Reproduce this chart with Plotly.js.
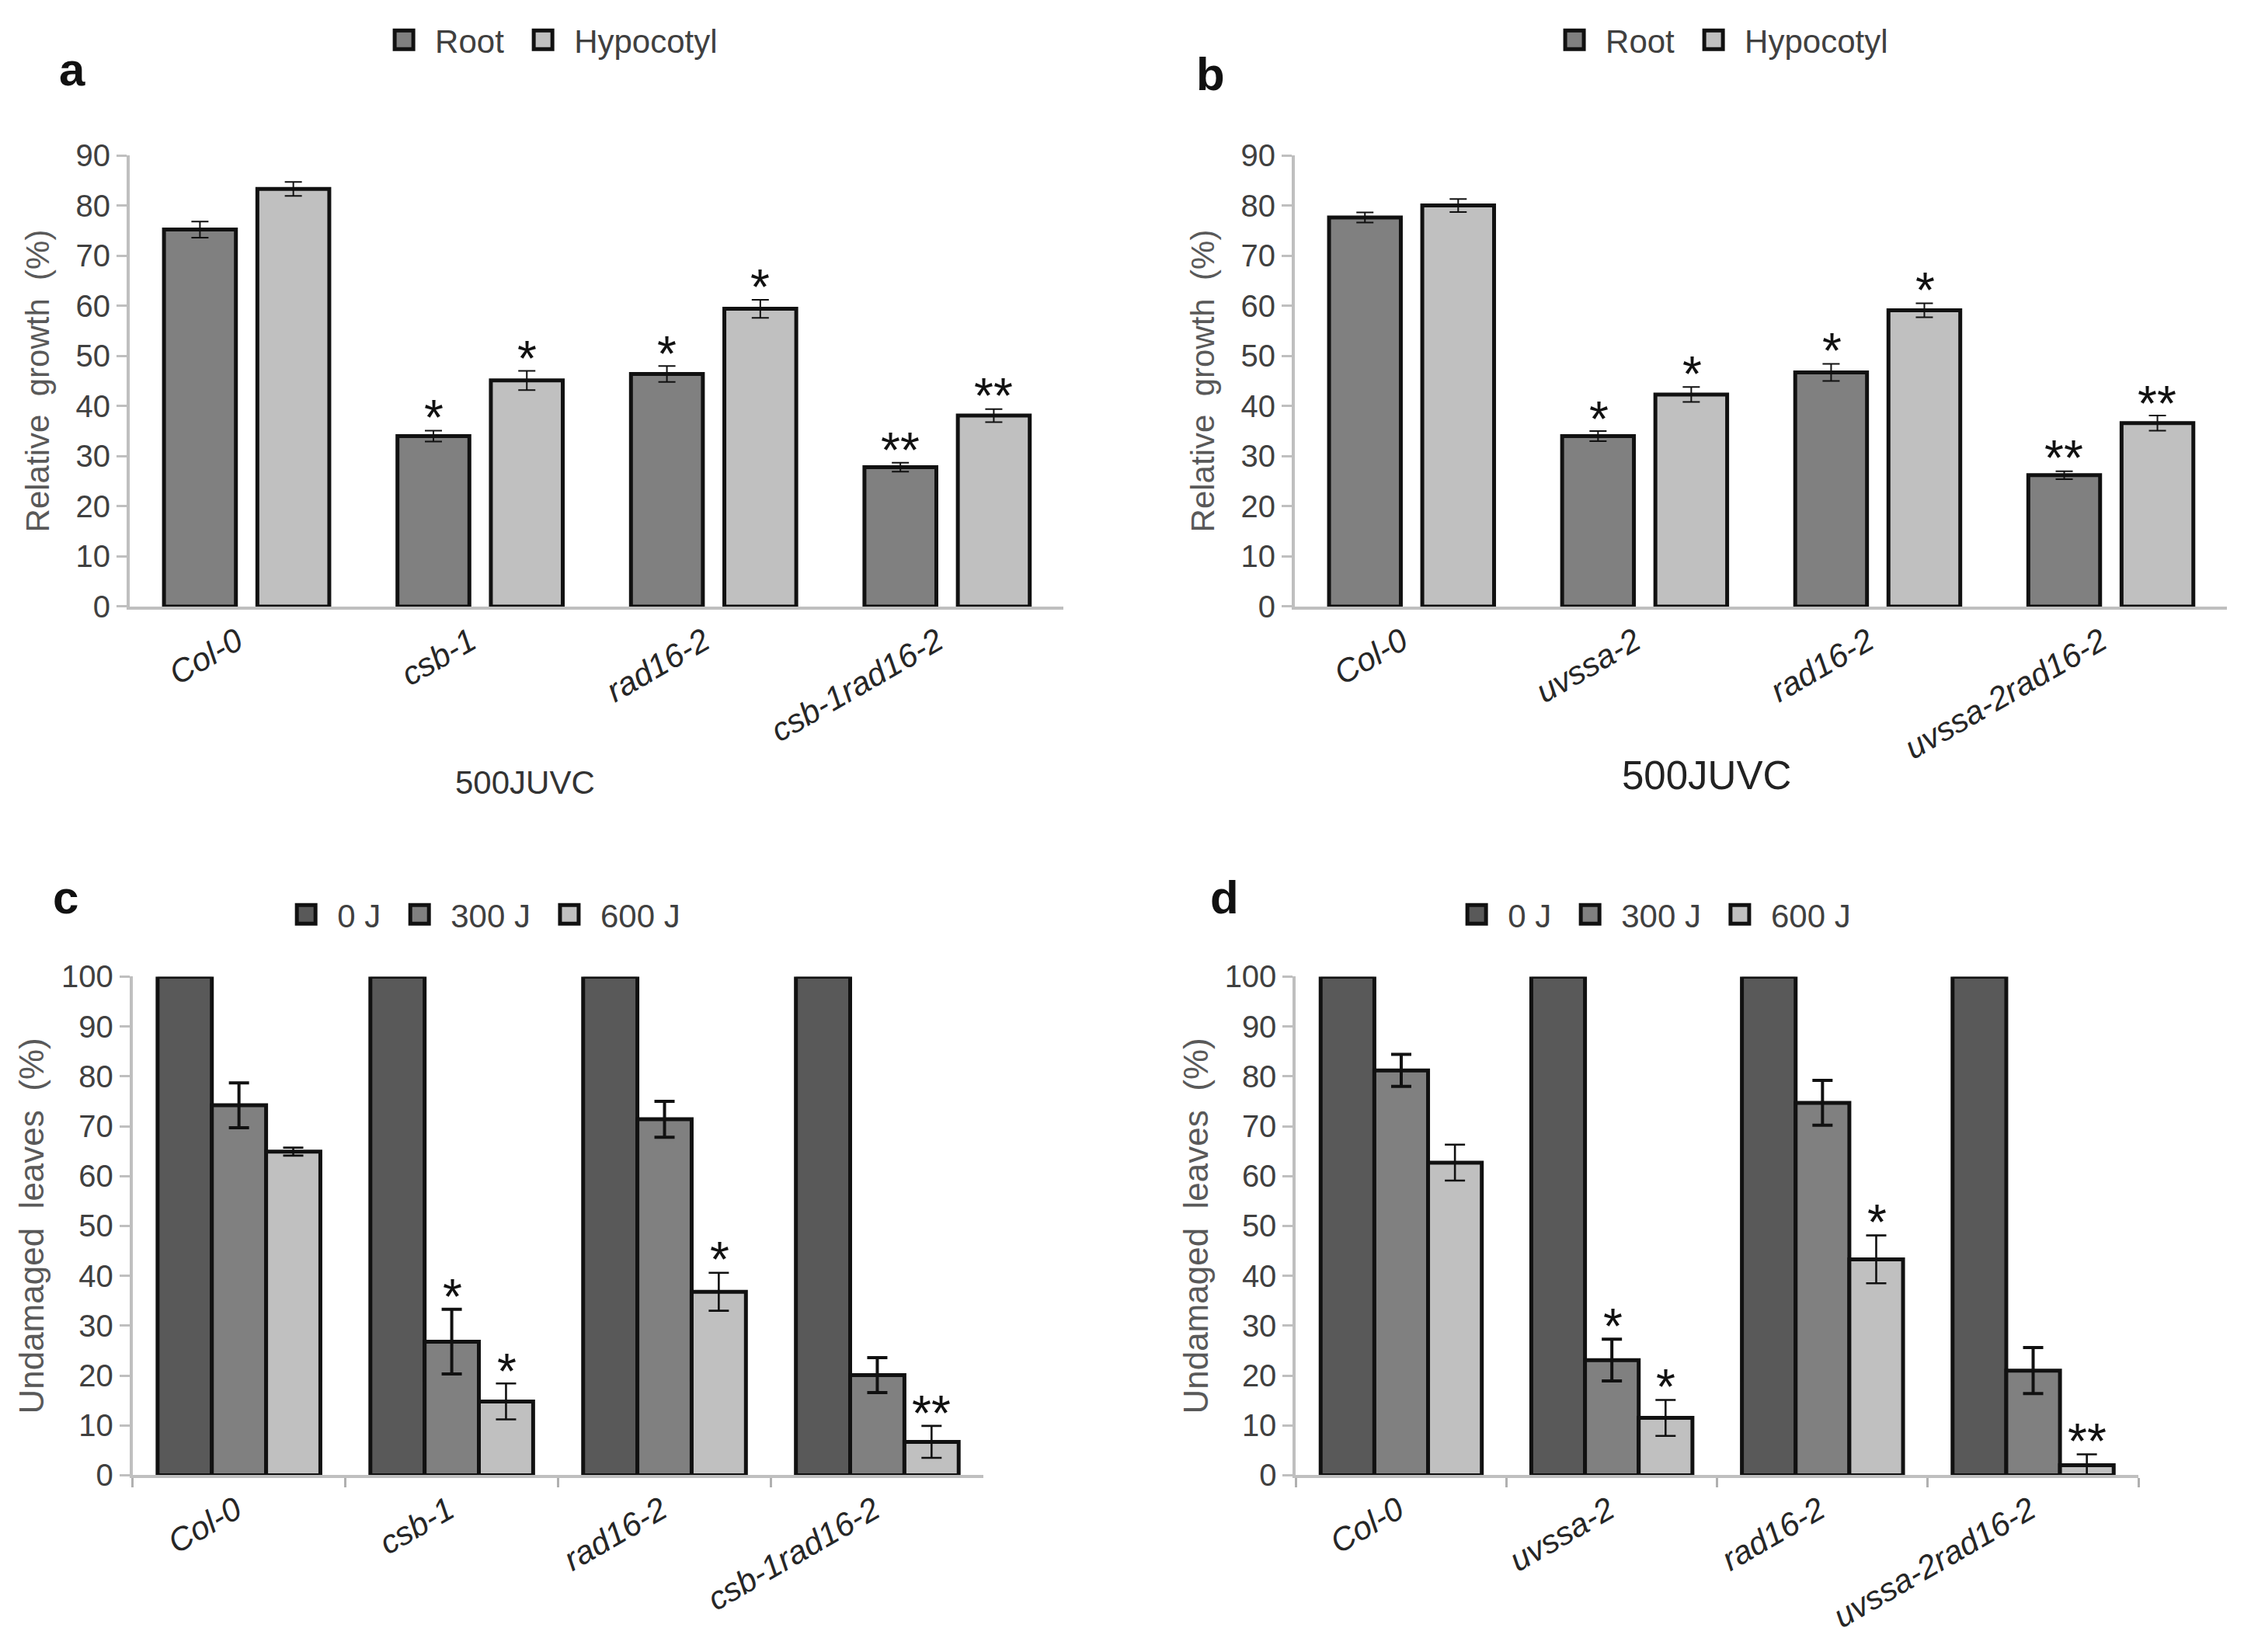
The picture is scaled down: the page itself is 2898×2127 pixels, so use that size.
<!DOCTYPE html>
<html>
<head>
<meta charset="utf-8">
<script src="https://cdn.plot.ly/plotly-3.0.1.min.js"></script>
<style>
html,body{margin:0;padding:0;background:#fff;overflow:hidden}
#wrap{width:2898px;height:2127px;overflow:hidden;position:relative}
#chart{width:1449px;height:1064px;transform:scale(2);transform-origin:0 0;position:absolute;left:0;top:0}
</style>
</head>
<body>
<div id="wrap"><div id="chart"></div></div>
<script>
// ---------- data ----------
const catsA = ['Col-0', 'csb-1', 'rad16-2', 'csb-1rad16-2'];
const catsB = ['Col-0', 'uvssa-2', 'rad16-2', 'uvssa-2rad16-2'];

// panel a (500 J UVC, relative growth %)
const rootA = [75.2, 34.0, 46.4, 27.8];
const rootAErr = [1.6, 1.1, 1.6, 0.9];
const rootASig = ['', '*', '*', '**'];
const hypoA = [83.3, 45.1, 59.4, 38.1];
const hypoAErr = [1.4, 1.9, 1.8, 1.3];
const hypoASig = ['', '*', '*', '**'];

// panel b
const rootB = [77.6, 34.0, 46.7, 26.2];
const rootBErr = [1.0, 1.0, 1.7, 0.8];
const rootBSig = ['', '*', '*', '**'];
const hypoB = [80.0, 42.3, 59.1, 36.6];
const hypoBErr = [1.3, 1.5, 1.4, 1.5];
const hypoBSig = ['', '*', '*', '**'];

// panel c (undamaged leaves %)
const j0C = [100, 100, 100, 100];
const j300C = [74.2, 26.8, 71.4, 20.1];
const j300CErr = [4.5, 6.5, 3.6, 3.5];
const j300CSig = ['', '*', '', ''];
const j600C = [64.9, 14.8, 36.8, 6.7];
const j600CErr = [0.8, 3.6, 3.8, 3.2];
const j600CSig = ['', '*', '*', '**'];

// panel d
const j0D = [100, 100, 100, 100];
const j300D = [81.2, 23.1, 74.7, 21.0];
const j300DErr = [3.2, 4.2, 4.5, 4.6];
const j300DSig = ['', '*', '', ''];
const j600D = [62.7, 11.5, 43.3, 2.0];
const j600DErr = [3.6, 3.6, 4.8, 2.2];
const j600DSig = ['', '*', '*', '**'];

const legendAB = ['Root', 'Hypocotyl'];
const legendCD = ['0 J', '300 J', '600 J'];
const yTitleAB = 'Relative  growth  (%)';
const yTitleCD = 'Undamaged  leaves  (%)';
const doseLabel = '500JUVC';

// ---------- styles ----------
const FONT = 'Liberation Sans, Arial, sans-serif';
const colRoot = '#808080', colHypo = '#c0c0c0';
const col0 = '#595959', col300 = '#808080', col600 = '#c0c0c0';

const traces = [];
const annotations = [];

function addBars(name, cats, y, err, sig, color, xa, ya, legend, width, offset, errThick, errW, showErr) {
  const t = {
    type: 'bar', name: name, x: cats, y: y,
    xaxis: xa, yaxis: ya, legend: legend,
    width: width, offset: offset,
    marker: {color: color, line: {color: '#111111', width: 2.5}},
    hoverinfo: 'skip'
  };
  if (showErr) {
    t.error_y = {type: 'data', symmetric: false, array: err,
      arrayminus: err.map((e, i) => Math.min(e, y[i])),
      color: '#111111', thickness: errThick, width: errW, visible: true};
  }
  traces.push(t);
  if (sig) {
    sig.forEach((s, i) => {
      if (!s) return;
      annotations.push({
        xref: xa, yref: ya, x: i + offset + width / 2, y: y[i] + (err ? err[i] : 0),
        text: s, showarrow: false, yanchor: 'bottom', xanchor: 'center', yshift: -12,
        font: {family: FONT, size: 32, color: '#111111'}
      });
    });
  }
}

const wAB = 0.308, oRoot = -0.353, oHypo = 0.047;
addBars(legendAB[0], catsA, rootA, rootAErr, rootASig, colRoot, 'x', 'y', 'legend', wAB, oRoot, 1, 5.5, true);
addBars(legendAB[1], catsA, hypoA, hypoAErr, hypoASig, colHypo, 'x', 'y', 'legend', wAB, oHypo, 1, 5.5, true);
addBars(legendAB[0], catsB, rootB, rootBErr, rootBSig, colRoot, 'x2', 'y2', 'legend2', wAB, oRoot, 1, 5.5, true);
addBars(legendAB[1], catsB, hypoB, hypoBErr, hypoBSig, colHypo, 'x2', 'y2', 'legend2', wAB, oHypo, 1, 5.5, true);

const wCD = 0.255, o0 = -0.3825, o300 = -0.1275, o600 = 0.1275;
addBars(legendCD[0], catsA, j0C, null, null, col0, 'x3', 'y3', 'legend3', wCD, o0, 0, 0, false);
addBars(legendCD[1], catsA, j300C, j300CErr, j300CSig, col300, 'x3', 'y3', 'legend3', wCD, o300, 2, 6.5, true);
addBars(legendCD[2], catsA, j600C, j600CErr, j600CSig, col600, 'x3', 'y3', 'legend3', wCD, o600, 1.3, 6.5, true);
addBars(legendCD[0], catsB, j0D, null, null, col0, 'x4', 'y4', 'legend4', wCD, o0, 0, 0, false);
addBars(legendCD[1], catsB, j300D, j300DErr, j300DSig, col300, 'x4', 'y4', 'legend4', wCD, o300, 2, 6.5, true);
addBars(legendCD[2], catsB, j600D, j600DErr, j600DSig, col600, 'x4', 'y4', 'legend4', wCD, o600, 1.3, 6.5, true);

// panel letters and dose labels
[['a', 0.0321, 0.958], ['b', 0.5378, 0.9549], ['c', 0.029, 0.4569], ['d', 0.544, 0.4569]].forEach(p => {
  annotations.push({xref: 'paper', yref: 'paper', x: p[1], y: p[2], text: '<b>' + p[0] + '</b>',
    showarrow: false, xanchor: 'center', yanchor: 'middle', font: {family: FONT, size: 30, color: '#111111'}});
});
annotations.push({xref: 'paper', yref: 'paper', x: 0.233, y: 0.527, text: doseLabel, showarrow: false,
  xanchor: 'center', yanchor: 'middle', font: {family: FONT, size: 21, color: '#333333'}});
annotations.push({xref: 'paper', yref: 'paper', x: 0.758, y: 0.5306, text: doseLabel, showarrow: false,
  xanchor: 'center', yanchor: 'middle', font: {family: FONT, size: 25.5, color: '#222222'}});

function yAxis(domain, maxV, title, tsize, standoff) {
  return {
    domain: domain, range: [0, maxV], tick0: 0, dtick: 10, showgrid: false, zeroline: false,
    showline: true, linecolor: '#bfbfbf', linewidth: 2,
    ticks: 'outside', ticklen: 6.5, tickwidth: 1.5, tickcolor: '#bfbfbf',
    tickfont: {family: FONT, size: 20, color: '#404040'},
    title: {text: title, font: {family: FONT, size: tsize, color: '#595959'}, standoff: standoff},
    fixedrange: true, automargin: false
  };
}
function xAxis(domain, anchor, boundaries) {
  const a = {
    domain: domain, anchor: anchor, type: 'category', range: [-0.5, 3.5],
    showgrid: false, zeroline: false, showline: true, linecolor: '#bfbfbf', linewidth: 2,
    tickangle: -30, tickfont: {family: FONT, size: 21, style: 'italic', color: '#262626'},
    fixedrange: true, automargin: false
  };
  if (boundaries) {
    a.ticks = 'outside'; a.tickson = 'boundaries'; a.ticklen = 6; a.tickwidth = 1.5; a.tickcolor = '#b0b0b0';
    a.ticklabelshift = -2;
  } else {
    a.ticks = '';
    a.ticklabelshift = -6;
  }
  return a;
}
function legendBox(x, y) {
  return {orientation: 'h', x: x, y: y, xanchor: 'center', yanchor: 'middle',
    font: {family: FONT, size: 21, color: '#404040'}, bgcolor: 'rgba(0,0,0,0)',
    borderwidth: 0, traceorder: 'normal'};
}

const layout = {
  width: 1449, height: 1064,
  margin: {l: 0, r: 0, t: 0, b: 0},
  paper_bgcolor: '#ffffff', plot_bgcolor: '#ffffff',
  font: {family: FONT, color: '#404040'},
  barmode: 'overlay',
  showlegend: true,
  xaxis: xAxis([0.0576, 0.4725], 'y', false),
  yaxis: Object.assign(yAxis([0.6330, 0.9060], 90, yTitleAB, 21, 11), {anchor: 'x'}),
  xaxis2: xAxis([0.5752, 0.9894], 'y2', false),
  yaxis2: Object.assign(yAxis([0.6330, 0.9060], 90, yTitleAB, 21, 11), {anchor: 'x2'}),
  xaxis3: xAxis([0.0589, 0.4370], 'y3', true),
  yaxis3: Object.assign(yAxis([0.1074, 0.4091], 100, yTitleCD, 22, 5), {anchor: 'x3'}),
  xaxis4: xAxis([0.5757, 0.9500], 'y4', true),
  yaxis4: Object.assign(yAxis([0.1074, 0.4091], 100, yTitleCD, 22, 4), {anchor: 'x4'}),
  legend: legendBox(0.244, 0.9756),
  legend2: legendBox(0.764, 0.9756),
  legend3: legendBox(0.214, 0.4464),
  legend4: legendBox(0.734, 0.4464),
  annotations: annotations
};

Plotly.newPlot('chart', traces, layout, {staticPlot: true, displayModeBar: false});
</script>
</body>
</html>
